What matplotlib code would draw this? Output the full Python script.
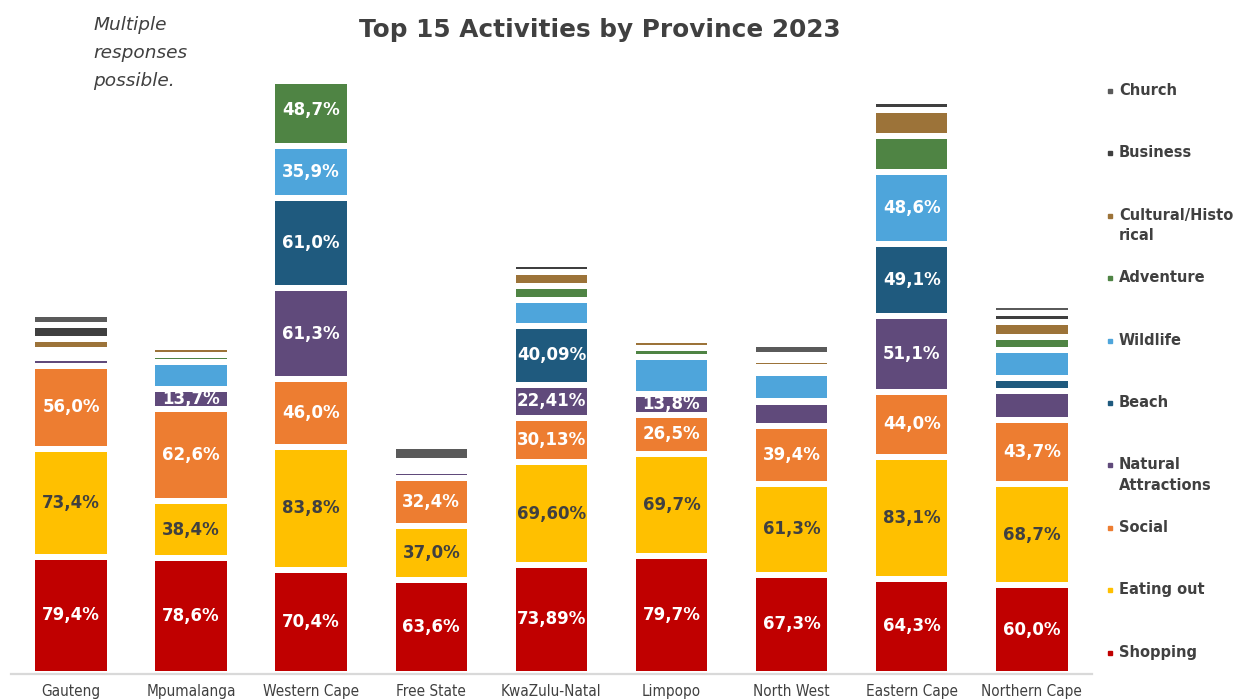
import matplotlib
matplotlib.use('Agg')
import matplotlib.pyplot as plt
from matplotlib.patches import Rectangle
from matplotlib.lines import Line2D

provinces = ['Gauteng', 'Mpumalanga', 'Western Cape', 'Free State', 'KwaZulu-Natal',
             'Limpopo', 'North West', 'Eastern Cape', 'Northern Cape']

# share of visitors per activity (%), one list per activity, bottom of stack first
shopping = [79.4, 78.6, 70.4, 63.6, 73.89, 79.7, 67.3, 64.3, 60.0]
eating_out = [73.4, 38.4, 83.8, 37.0, 69.60, 69.7, 61.3, 83.1, 68.7]
social = [56.0, 62.6, 46.0, 32.4, 30.13, 26.5, 39.4, 44.0, 43.7]
natural = [5.6, 13.7, 61.3, 4.3, 22.41, 13.8, 16.3, 51.1, 19.7]
beach = [0.0, 0.0, 61.0, 0.0, 40.09, 0.0, 0.9, 49.1, 8.6]
wildlife = [2.6, 18.3, 35.9, 2.4, 17.2, 25.4, 19.0, 48.6, 18.8]
adventure = [2.4, 4.9, 48.7, 2.3, 9.8, 6.2, 3.9, 24.8, 9.2]
cultural = [7.9, 5.0, 0.0, 2.4, 9.6, 5.2, 5.0, 17.2, 9.7]
business = [9.3, 0.0, 0.0, 0.0, 5.1, 0.0, 3.1, 6.3, 6.6]
church = [7.5, 0.0, 0.0, 10.2, 4.6, 0.0, 7.3, 0.0, 5.4]

series_names = ['Shopping', 'Eating out', 'Social', 'Natural Attractions', 'Beach',
                'Wildlife', 'Adventure', 'Cultural/Historical', 'Business', 'Church']
series_values = [shopping, eating_out, social, natural, beach,
                 wildlife, adventure, cultural, business, church]
colors = ['#C00000', '#FFC000', '#ED7D31', '#604A7B', '#1F5A7E',
          '#4EA5DB', '#4F8444', '#9C7339', '#3F3F3F', '#5A5A5A']

# which provinces get a value label, per activity
labelled = {
    'Shopping': provinces,
    'Eating out': provinces,
    'Social': provinces,
    'Natural Attractions': ['Mpumalanga', 'Western Cape', 'KwaZulu-Natal', 'Limpopo', 'Eastern Cape'],
    'Beach': ['Western Cape', 'KwaZulu-Natal', 'Eastern Cape'],
    'Wildlife': ['Western Cape', 'Eastern Cape'],
    'Adventure': ['Western Cape'],
}
decimals = {'KwaZulu-Natal': 2}

TEXT = '#404040'
EDGE_PX = 6.0


def fmt_pct(value, ndec):
    return f"{value:.{ndec}f}%".replace('.', ',')


def draw_stacks(ax):
    x = list(range(len(provinces)))
    width = 0.645
    bottom = [0.0] * len(provinces)
    # half of the white separator in data units, used to clip the labels
    px_per_unit_y = 589.6 / 400.0
    px_per_unit_x = 120.1
    half_y = EDGE_PX / 2 / px_per_unit_y
    half_x = EDGE_PX / 2 / px_per_unit_x

    for name, vals, col in zip(series_names, series_values, colors):
        bars = ax.bar(x, vals, width, bottom=bottom, color=col,
                      edgecolor='white', linewidth=EDGE_PX * 72 / 100, zorder=2)
        txt_col = TEXT if name == 'Eating out' else 'white'
        for i, (b, v) in enumerate(zip(bars, vals)):
            prov = provinces[i]
            if prov in labelled.get(name, []):
                t = ax.text(x[i], bottom[i] + v / 2, fmt_pct(v, decimals.get(prov, 1)),
                            ha='center', va='center', color=txt_col,
                            fontsize=12, fontweight='bold', zorder=3)
                clip = Rectangle((x[i] - width / 2 + half_x, bottom[i] + half_y),
                                 width - 2 * half_x, v - 2 * half_y,
                                 transform=ax.transData)
                t.set_clip_path(clip)
        bottom = [b + v for b, v in zip(bottom, vals)]


def draw_legend(fig):
    W, H = 1236.0, 699.0
    y0, step = 91.0, 62.4
    labels = ['Church', 'Business', 'Cultural/Histo\nrical', 'Adventure', 'Wildlife',
              'Beach', 'Natural\nAttractions', 'Social', 'Eating out', 'Shopping']
    cols = colors[::-1]
    for k, (lab, col) in enumerate(zip(labels, cols)):
        yy = y0 + step * k
        fig.add_artist(Line2D([1110 / W], [1 - yy / H], marker='s', markersize=2.6,
                              color=col, linestyle='none', transform=fig.transFigure))
        fig.text(1119 / W, 1 - (yy - 8) / H, lab, ha='left', va='top',
                 fontsize=10.5, fontweight='bold', color=TEXT, linespacing=1.45)


if __name__ == "__main__":
    fig = plt.figure(figsize=(12.36, 6.99), dpi=100)
    ax = fig.add_axes([10.95 / 1236, 25.2 / 699, 1080.9 / 1236, 589.6 / 699])

    draw_stacks(ax)

    ax.set_xlim(-0.5, len(provinces) - 0.5)
    ax.set_ylim(0, 400)
    ax.set_yticks([])
    ax.set_xticks(range(len(provinces)))
    ax.set_xticklabels(provinces, fontsize=11, color=TEXT, fontstretch='condensed')
    ax.tick_params(axis='x', length=0, pad=7)
    for side in ['top', 'left', 'right']:
        ax.spines[side].set_visible(False)
    ax.spines['bottom'].set_color('#D9D9D9')
    ax.spines['bottom'].set_linewidth(1.6)
    ax.spines['bottom'].set_zorder(4)

    fig.text(600 / 1236, 1 - 30 / 699, 'Top 15 Activities by Province 2023',
             ha='center', va='center', fontsize=17.8, fontweight='bold', color=TEXT)
    fig.text(93 / 1236, 1 - 16 / 699, 'Multiple\nresponses\npossible.',
             ha='left', va='top', fontsize=13.3, style='italic', color=TEXT,
             linespacing=1.72)

    draw_legend(fig)

    fig.savefig('out.png', dpi=100)
    plt.close(fig)
